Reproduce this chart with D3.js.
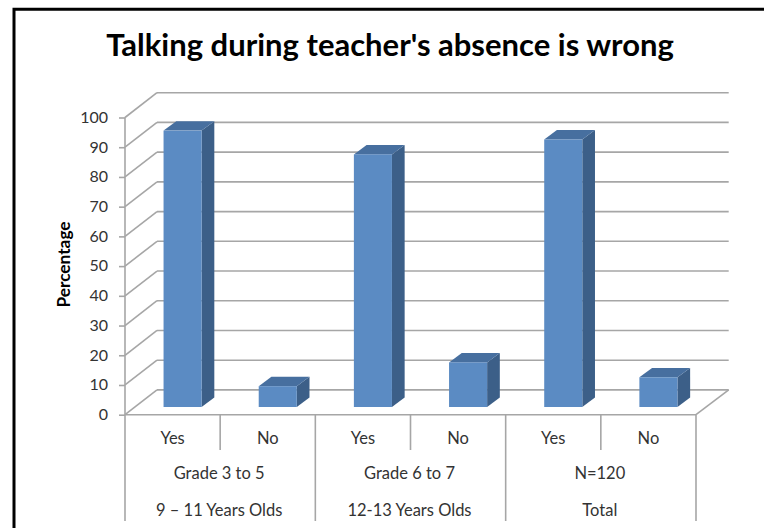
<!DOCTYPE html>
<html>
<head>
<meta charset="utf-8">
<script src="https://d3js.org/d3.v7.min.js"></script>
<style>
  html, body { margin: 0; padding: 0; background: #fff; }
  svg { display: block; }
  text { font-family: Lato, "Open Sans", sans-serif; }
  .axis path, .axis line { stroke: #a6a6a6; stroke-width: 1.6; }
  .axis text { fill: #333; }
</style>
</head>
<body>
<script>
"use strict";
// chart data
var answers = ["Yes", "No", "Yes", "No", "Yes", "No"];
var percents = [93, 7, 85, 15, 90, 10];
var groups = ["Grade 3 to 5", "Grade 6 to 7", "N=120"];
var ages = ["9 \u2013 11 Years Olds", "12-13 Years Olds", "Total"];
var yTicks = [0, 10, 20, 30, 40, 50, 60, 70, 80, 90, 100];

var width = 764, height = 528;
var left = 125, right = 696, top100 = 117.5, floorY = 414.7, axisEnd = 521;
// 3d look: how far the back wall sits from the front plane
var wallX = 32, wallY = 24.8;
// bars stand part way back on the floor
var barShiftX = 10, barShiftY = 7.7, depthX = 12.7, depthY = 9.4;

var svg = d3.select("body").append("svg")
    .attr("width", width)
    .attr("height", height);

// outer frame, cut off on the right and bottom like the screenshot
svg.append("path")
    .attr("d", "M14," + height + "V9.3H" + width)
    .attr("fill", "none")
    .attr("stroke", "#000")
    .attr("stroke-width", 3);

svg.append("text")
    .attr("x", 390)
    .attr("y", 56)
    .attr("text-anchor", "middle")
    .style("font-size", "31px")
    .style("font-weight", 700)
    .attr("fill", "#000")
    .text("Talking during teacher's absence is wrong");

var y = d3.scaleLinear().domain([0, 100]).range([floorY, top100]);
var x = d3.scaleBand().domain(d3.range(answers.length)).range([left, right]);
var xGroup = d3.scaleBand().domain(d3.range(groups.length)).range([left, right]);

// back wall gridlines and the slanted lines on the side wall
var grid = svg.append("g")
    .attr("fill", "none")
    .attr("stroke", "#a6a6a6")
    .attr("stroke-width", 1.6);

grid.selectAll("line.back")
    .data(yTicks)
    .enter().append("line")
    .attr("class", "back")
    .attr("x1", left + wallX)
    .attr("x2", right + wallX + 0.7)
    .attr("y1", function (d) { return y(d) - wallY; })
    .attr("y2", function (d) { return y(d) - wallY; });

grid.selectAll("line.side")
    .data(yTicks)
    .enter().append("line")
    .attr("class", "side")
    .attr("x1", left)
    .attr("x2", left + wallX)
    .attr("y1", function (d) { return y(d); })
    .attr("y2", function (d) { return y(d) - wallY; });

grid.append("line")
    .attr("x1", right)
    .attr("x2", right + wallX + 0.7)
    .attr("y1", floorY)
    .attr("y2", floorY - wallY);

// bars, side and top faces first
var barW = x.bandwidth() * 0.4;
function barX(i) { return x(i) + (x.bandwidth() - barW) / 2 + barShiftX; }
function barY(d) { return y(d) - barShiftY; }
var baseY = y(0) - barShiftY;

var bars = svg.selectAll("g.bar")
    .data(percents)
    .enter().append("g")
    .attr("class", "bar");

bars.append("path")
    .attr("fill", "#3c5f88")
    .attr("d", function (d, i) {
        var x1 = barX(i) + barW;
        return "M" + x1 + "," + baseY + "V" + barY(d) +
            "l" + depthX + "," + (-depthY) + "V" + (baseY - depthY) + "Z";
    });

bars.append("path")
    .attr("fill", "#476f9f")
    .attr("d", function (d, i) {
        return "M" + barX(i) + "," + barY(d) + "h" + barW +
            "l" + depthX + "," + (-depthY) + "h" + (-barW) + "Z";
    });

bars.append("rect")
    .attr("fill", "#5b8bc3")
    .attr("x", function (d, i) { return barX(i); })
    .attr("y", function (d) { return barY(d); })
    .attr("width", barW)
    .attr("height", function (d) { return baseY - barY(d); });

// y axis
var yAxis = svg.append("g")
    .attr("class", "axis")
    .attr("transform", "translate(" + left + ",0)")
    .call(d3.axisLeft(y).tickValues(yTicks).tickSize(6).tickPadding(11));
yAxis.select(".domain").remove();
yAxis.selectAll("text").style("font-size", "16px").attr("dy", "0.3em");

svg.append("line")
    .attr("x1", left).attr("x2", left)
    .attr("y1", top100).attr("y2", axisEnd)
    .attr("stroke", "#a6a6a6").attr("stroke-width", 1.6);

svg.append("text")
    .attr("transform", "translate(69.5,264.5) rotate(-90)")
    .attr("text-anchor", "middle")
    .style("font-size", "17.3px")
    .style("font-weight", 700)
    .attr("fill", "#000")
    .text("Percentage");

// x axis: floor edge and Yes/No labels
var xAxis = svg.append("g")
    .attr("class", "axis")
    .attr("transform", "translate(0," + floorY + ")")
    .call(d3.axisBottom(x)
        .tickSize(0)
        .tickPadding(18)
        .tickFormat(function (i) { return answers[i]; }));
xAxis.select(".domain").attr("d", "M" + left + ",0H" + right);
xAxis.selectAll("text").style("font-size", "16.5px");

// short separators between Yes and No, long ones between groups
var seps = svg.append("g")
    .attr("stroke", "#a6a6a6")
    .attr("stroke-width", 1.6);

seps.selectAll("line.short")
    .data(d3.range(groups.length))
    .enter().append("line")
    .attr("class", "short")
    .attr("x1", function (i) { return x(i * 2 + 1); })
    .attr("x2", function (i) { return x(i * 2 + 1); })
    .attr("y1", floorY)
    .attr("y2", 450);

seps.selectAll("line.long")
    .data(d3.range(1, groups.length + 1))
    .enter().append("line")
    .attr("class", "long")
    .attr("x1", function (i) { return i < groups.length ? xGroup(i) : right; })
    .attr("x2", function (i) { return i < groups.length ? xGroup(i) : right; })
    .attr("y1", floorY)
    .attr("y2", axisEnd);

// the two lower label rows
function labelRow(names, yPos) {
    svg.selectAll(null)
        .data(names)
        .enter().append("text")
        .attr("x", function (d, i) { return xGroup(i) + xGroup.bandwidth() / 2 - 1; })
        .attr("y", yPos)
        .attr("text-anchor", "middle")
        .attr("fill", "#333")
        .style("font-size", "16.5px")
        .text(function (d) { return d; });
}
labelRow(groups, 479);
labelRow(ages, 516);
</script>
</body>
</html>
